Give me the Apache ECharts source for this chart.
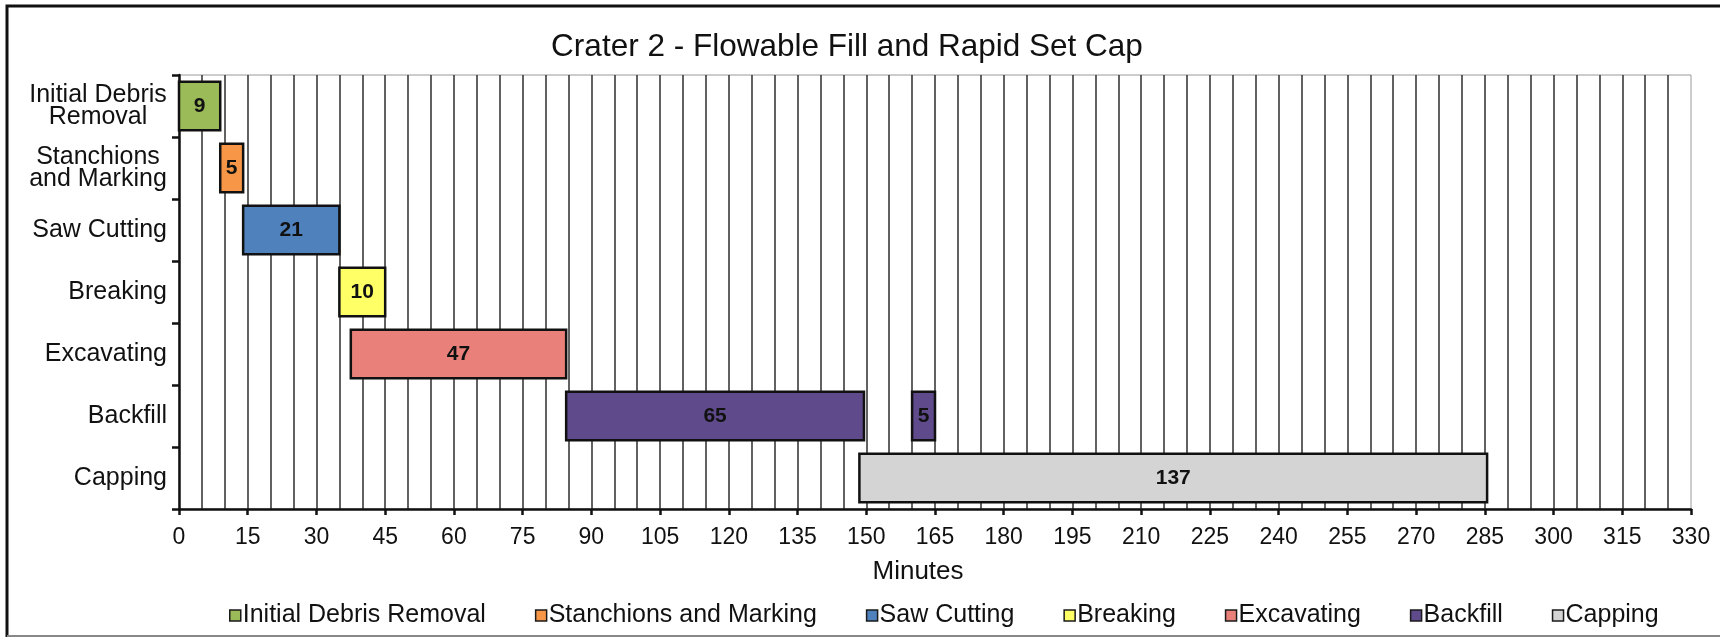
<!DOCTYPE html>
<html>
<head>
<meta charset="utf-8">
<script src="https://cdn.jsdelivr.net/npm/echarts@6/dist/echarts.min.js"></script>
<style>
  html, body { margin: 0; padding: 0; background: #fff; }
  #chart { width: 1720px; height: 637px; }
</style>
</head>
<body>
<div id="chart"></div>
<script>
// ---- data ----
const categories = ['Initial Debris\nRemoval', 'Stanchions\nand Marking', 'Saw Cutting', 'Breaking', 'Excavating', 'Backfill', 'Capping'];
const taskNames = ['Initial Debris Removal', 'Stanchions and Marking', 'Saw Cutting', 'Breaking', 'Excavating', 'Backfill', 'Capping'];
const taskStarts = [[0], [9], [14], [35], [37.5], [84.5, 160], [148.5]];
const taskDurations = [[9], [5], [21], [10], [47], [65, 5], [137]];
const taskColors = ['#9BBB59', '#F79646', '#4F81BD', '#FFFF66', '#E9807A', '#5F4A8B', '#D4D4D4'];
const xMin = 0, xMax = 330, xInterval = 15;

const FONT = '"Liberation Sans", Arial, sans-serif';

function renderBar(params, api) {
  const cat = api.value(0);
  const s = api.value(1);
  const e = api.value(2);
  const d = api.value(3);
  const p0 = api.coord([s, cat]);
  const p1 = api.coord([e, cat]);
  const h = api.size([0, 1])[1] * 0.78;
  const color = api.visual('color');
  return {
    type: 'group',
    children: [
      {
        type: 'rect',
        shape: { x: p0[0], y: p0[1] - h / 2, width: p1[0] - p0[0], height: h },
        style: { fill: color, stroke: '#111', lineWidth: 2.5 }
      },
      {
        type: 'text',
        x: (p0[0] + p1[0]) / 2,
        y: p0[1],
        style: {
          text: String(d),
          fill: '#111',
          font: 'bold 21px ' + FONT,
          align: 'center',
          verticalAlign: 'middle'
        }
      }
    ]
  };
}

const series = taskNames.map((name, i) => ({
  type: 'custom',
  name: name,
  renderItem: renderBar,
  itemStyle: { color: taskColors[i] },
  encode: { x: [1, 2], y: 0 },
  data: taskStarts[i].map((s, j) => [i, s, s + taskDurations[i][j], taskDurations[i][j]])
}));

const chart = echarts.init(document.getElementById('chart'), null, { renderer: 'canvas' });
chart.setOption({
  backgroundColor: '#fff',
  animation: false,
  textStyle: { fontFamily: FONT },
  title: {
    text: 'Crater 2 - Flowable Fill and Rapid Set Cap',
    left: 842,
    textAlign: 'center',
    top: 26,
    textStyle: { fontSize: 31.5, fontWeight: 'normal', color: '#111', fontFamily: FONT }
  },
  graphic: [
    { type: 'polyline', shape: { points: [[7, 640], [7, 6], [1730, 6]] }, style: { stroke: '#111', lineWidth: 3, fill: null } },
    { type: 'line', shape: { x1: 7, y1: 636, x2: 1730, y2: 636 }, style: { stroke: '#888', lineWidth: 2 } }
  ],
  grid: {
    left: 179, right: 29, top: 75, bottom: 128,
    show: true, borderColor: '#9a9a9a', borderWidth: 1, backgroundColor: 'transparent'
  },
  legend: {
    data: taskNames,
    top: 598,
    left: 224,
    icon: 'rect',
    itemWidth: 11,
    itemHeight: 11,
    itemGap: 49,
    itemStyle: { borderColor: '#1a1a1a', borderWidth: 1.5 },
    textStyle: { fontSize: 25, color: '#111', fontFamily: FONT, padding: [0, 0, 0, -3] }
  },
  xAxis: {
    type: 'value',
    min: xMin,
    max: xMax,
    interval: xInterval,
    name: 'Minutes',
    nameLocation: 'middle',
    nameGap: 50,
    nameTextStyle: { fontSize: 26, color: '#111', fontFamily: FONT, padding: [0, 34, 0, 0] },
    axisLine: { show: true, lineStyle: { color: '#111', width: 2.5 } },
    axisTick: { show: true, length: 6, lineStyle: { color: '#111', width: 2.5 } },
    axisLabel: { fontSize: 23, color: '#111', margin: 17, fontFamily: FONT },
    splitLine: { show: true, showMinLine: false, showMaxLine: false, lineStyle: { color: '#3a3a3a', width: 1.6 } },
    minorTick: { show: false, splitNumber: 3 },
    minorSplitLine: { show: true, lineStyle: { color: '#3a3a3a', width: 1.6 } }
  },
  yAxis: {
    type: 'category',
    data: categories,
    inverse: true,
    axisLine: { show: true, lineStyle: { color: '#111', width: 2.5 } },
    axisTick: { show: true, length: 7, lineStyle: { color: '#111', width: 2.5 } },
    splitLine: { show: false },
    axisLabel: {
      fontSize: 25,
      color: '#111',
      margin: 12,
      fontFamily: FONT,
      lineHeight: 22,
      formatter: function (v) {
        if (v.indexOf('\n') >= 0) {
          return v.split('\n').map(l => '{m|' + l + '}').join('\n');
        }
        return v;
      },
      rich: {
        m: { width: 138, align: 'center', fontSize: 25, lineHeight: 22, color: '#111', fontFamily: FONT }
      }
    }
  },
  series: series
});
</script>
</body>
</html>
